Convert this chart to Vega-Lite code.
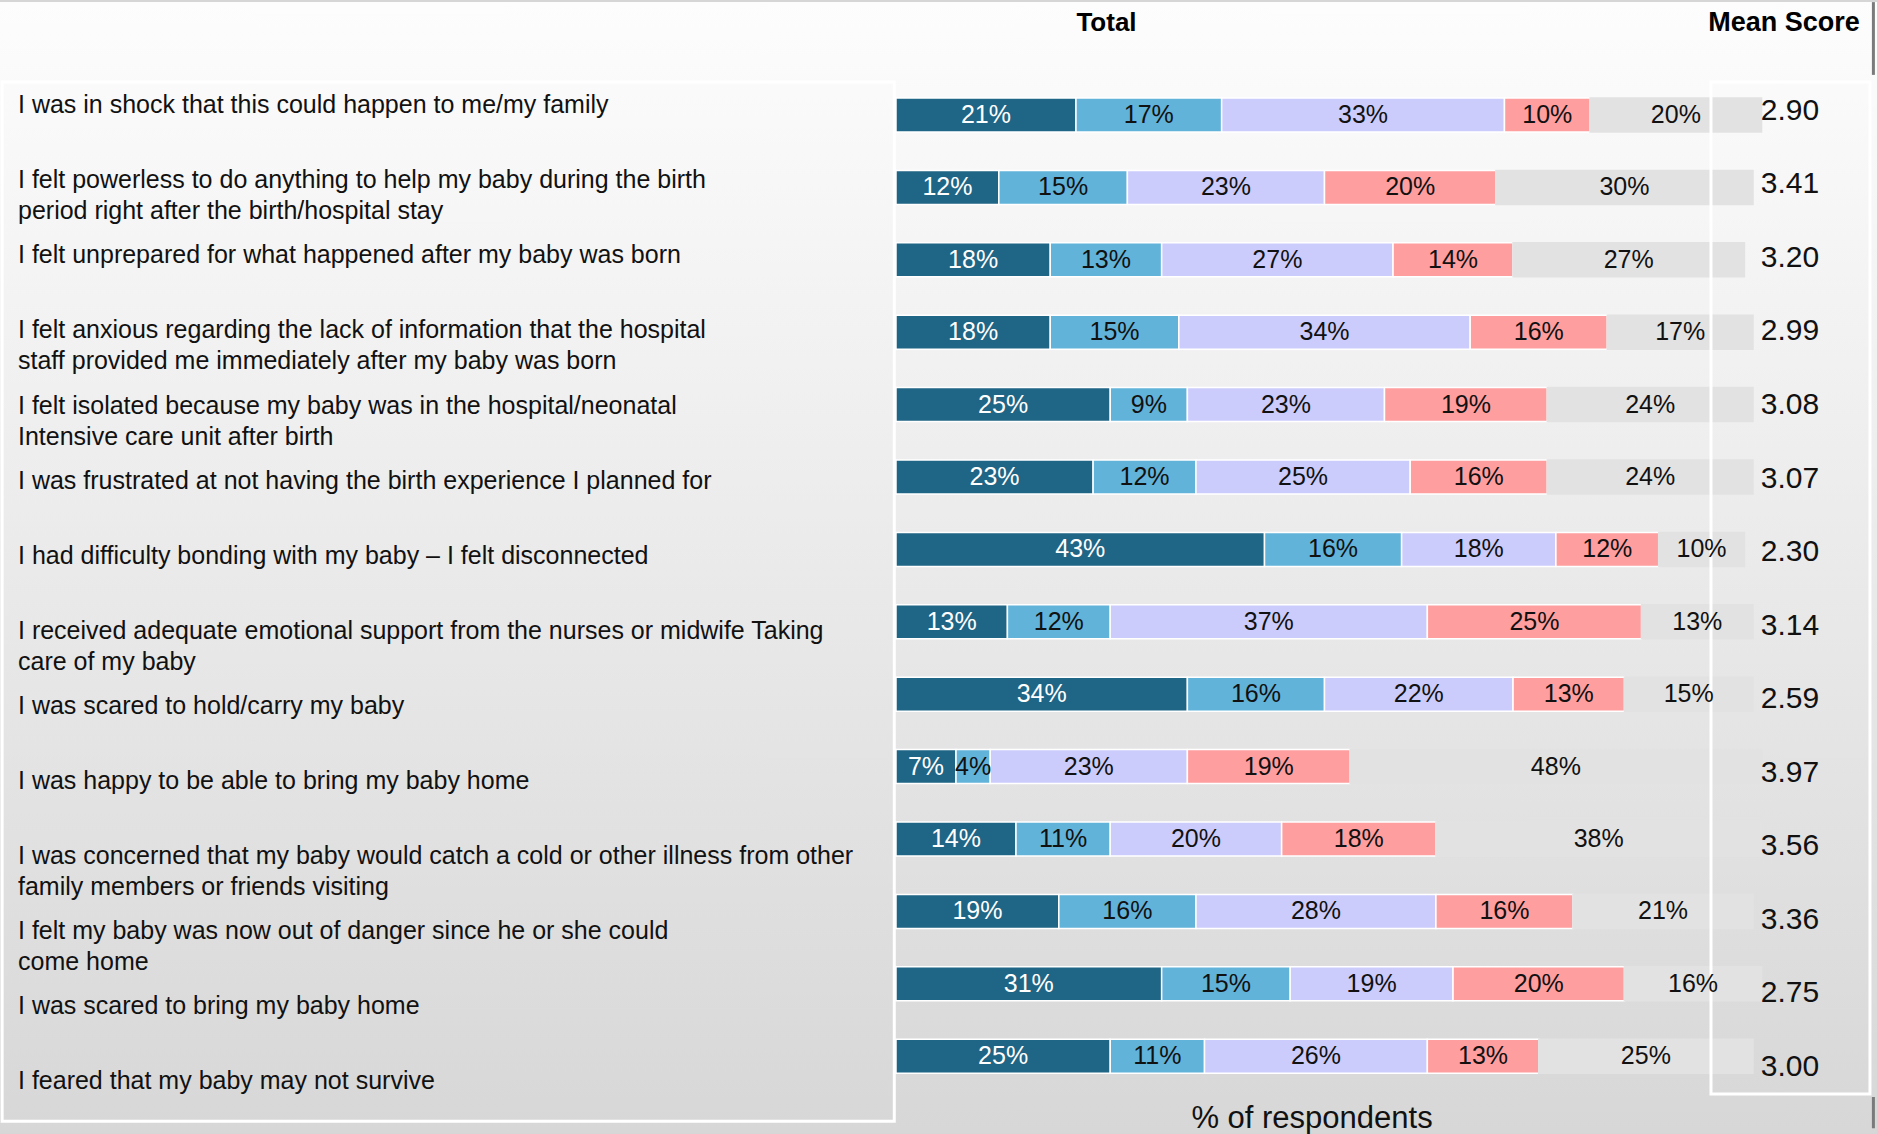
{
  "$schema": "https://vega.github.io/schema/vega-lite/v6.json",
  "width": 1877,
  "height": 1134,
  "autosize": {"type": "fit", "contains": "padding"},
  "padding": 0,
  "background": "#d6d6d6",
  "title": {"text": "% of respondents", "orient": "bottom", "anchor": "middle", "frame": "group", "dx": 373.5, "offset": -5, "baseline": "alphabetic", "fontSize": 31, "fontWeight": "normal", "color": "#111111", "font": "Liberation Sans"},
  "config": {"view": {"stroke": null}, "font": "Liberation Sans", "text": {"font": "Liberation Sans"}},
  "datasets": {
    "shares": [
      {"id": "q1", "k": 1, "share": 0.21}, {"id": "q1", "k": 2, "share": 0.17}, {"id": "q1", "k": 3, "share": 0.33}, {"id": "q1", "k": 4, "share": 0.10}, {"id": "q1", "k": 5, "share": 0.20},
      {"id": "q2", "k": 1, "share": 0.12}, {"id": "q2", "k": 2, "share": 0.15}, {"id": "q2", "k": 3, "share": 0.23}, {"id": "q2", "k": 4, "share": 0.20}, {"id": "q2", "k": 5, "share": 0.30},
      {"id": "q3", "k": 1, "share": 0.18}, {"id": "q3", "k": 2, "share": 0.13}, {"id": "q3", "k": 3, "share": 0.27}, {"id": "q3", "k": 4, "share": 0.14}, {"id": "q3", "k": 5, "share": 0.27},
      {"id": "q4", "k": 1, "share": 0.18}, {"id": "q4", "k": 2, "share": 0.15}, {"id": "q4", "k": 3, "share": 0.34}, {"id": "q4", "k": 4, "share": 0.16}, {"id": "q4", "k": 5, "share": 0.17},
      {"id": "q5", "k": 1, "share": 0.25}, {"id": "q5", "k": 2, "share": 0.09}, {"id": "q5", "k": 3, "share": 0.23}, {"id": "q5", "k": 4, "share": 0.19}, {"id": "q5", "k": 5, "share": 0.24},
      {"id": "q6", "k": 1, "share": 0.23}, {"id": "q6", "k": 2, "share": 0.12}, {"id": "q6", "k": 3, "share": 0.25}, {"id": "q6", "k": 4, "share": 0.16}, {"id": "q6", "k": 5, "share": 0.24},
      {"id": "q7", "k": 1, "share": 0.43}, {"id": "q7", "k": 2, "share": 0.16}, {"id": "q7", "k": 3, "share": 0.18}, {"id": "q7", "k": 4, "share": 0.12}, {"id": "q7", "k": 5, "share": 0.10},
      {"id": "q8", "k": 1, "share": 0.13}, {"id": "q8", "k": 2, "share": 0.12}, {"id": "q8", "k": 3, "share": 0.37}, {"id": "q8", "k": 4, "share": 0.25}, {"id": "q8", "k": 5, "share": 0.13},
      {"id": "q9", "k": 1, "share": 0.34}, {"id": "q9", "k": 2, "share": 0.16}, {"id": "q9", "k": 3, "share": 0.22}, {"id": "q9", "k": 4, "share": 0.13}, {"id": "q9", "k": 5, "share": 0.15},
      {"id": "q10", "k": 1, "share": 0.07}, {"id": "q10", "k": 2, "share": 0.04}, {"id": "q10", "k": 3, "share": 0.23}, {"id": "q10", "k": 4, "share": 0.19}, {"id": "q10", "k": 5, "share": 0.48},
      {"id": "q11", "k": 1, "share": 0.14}, {"id": "q11", "k": 2, "share": 0.11}, {"id": "q11", "k": 3, "share": 0.20}, {"id": "q11", "k": 4, "share": 0.18}, {"id": "q11", "k": 5, "share": 0.38},
      {"id": "q12", "k": 1, "share": 0.19}, {"id": "q12", "k": 2, "share": 0.16}, {"id": "q12", "k": 3, "share": 0.28}, {"id": "q12", "k": 4, "share": 0.16}, {"id": "q12", "k": 5, "share": 0.21},
      {"id": "q13", "k": 1, "share": 0.31}, {"id": "q13", "k": 2, "share": 0.15}, {"id": "q13", "k": 3, "share": 0.19}, {"id": "q13", "k": 4, "share": 0.20}, {"id": "q13", "k": 5, "share": 0.16},
      {"id": "q14", "k": 1, "share": 0.25}, {"id": "q14", "k": 2, "share": 0.11}, {"id": "q14", "k": 3, "share": 0.26}, {"id": "q14", "k": 4, "share": 0.13}, {"id": "q14", "k": 5, "share": 0.25}
    ],
    "items": [
      {"id": "q1", "label": "I was in shock that this could happen to me/my family", "mean": 2.90},
      {"id": "q2", "label": "I felt powerless to do anything to help my baby during the birth\nperiod right after the birth/hospital stay", "mean": 3.41},
      {"id": "q3", "label": "I felt unprepared for what happened after my baby was born", "mean": 3.20},
      {"id": "q4", "label": "I felt anxious regarding the lack of information that the hospital\nstaff provided me immediately after my baby was born", "mean": 2.99},
      {"id": "q5", "label": "I felt isolated because my baby was in the hospital/neonatal\nIntensive care unit after birth", "mean": 3.08},
      {"id": "q6", "label": "I was frustrated at not having the birth experience I planned for", "mean": 3.07},
      {"id": "q7", "label": "I had difficulty bonding with my baby – I felt disconnected", "mean": 2.30},
      {"id": "q8", "label": "I received adequate emotional support from the nurses or midwife Taking\ncare of my baby", "mean": 3.14},
      {"id": "q9", "label": "I was scared to hold/carry my baby", "mean": 2.59},
      {"id": "q10", "label": "I was happy to be able to bring my baby home", "mean": 3.97},
      {"id": "q11", "label": "I was concerned that my baby would catch a cold or other illness from other\nfamily members or friends visiting", "mean": 3.56},
      {"id": "q12", "label": "I felt my baby was now out of danger since he or she could\ncome home", "mean": 3.36},
      {"id": "q13", "label": "I was scared to bring my baby home", "mean": 2.75},
      {"id": "q14", "label": "I feared that my baby may not survive", "mean": 3.00}
    ]
  },
  "resolve": {"scale": {"y": "independent"}, "axis": {"y": "independent"}},
  "layer": [
    {
      "layer": [
        {
          "data": {"values": [{}]},
          "mark": {"type": "rect", "color": {"gradient": "linear", "x1": 0, "y1": 0, "x2": 0, "y2": 1, "stops": [{"offset": 0, "color": "#fdfdfd"}, {"offset": 1, "color": "#d7d7d7"}]}},
          "encoding": {}
        },
        {
          "data": {"name": "shares"},
          "mark": {"type": "bar", "strokeWidth": 1.5},
          "encoding": {
            "x": {"field": "share", "type": "quantitative", "stack": "zero", "scale": {"domain": [-1.0455, 1.1447], "nice": false, "zero": false}, "axis": null},
            "y": {"field": "id", "type": "nominal", "sort": null,
              "scale": {"type": "band", "domain": ["q1","q2","q3","q4","q5","q6","q7","q8","q9","q10","q11","q12","q13","q14"], "range": [96, 1071.2], "paddingInner": 0.5304, "paddingOuter": 0},
              "axis": null},
            "color": {"field": "k", "type": "nominal", "scale": {"domain": [1, 2, 3, 4, 5], "range": ["#1f6585", "#62b3da", "#ccccfc", "#ff9e9f", "#e2e2e2"]}, "legend": null},
            "stroke": {"condition": {"test": "datum.k == 5", "value": "#e2e2e2"}, "value": "#ffffff"},
            "order": {"field": "k", "type": "quantitative"}
          }
        },
        {
          "data": {"values": [{}]},
          "mark": {"type": "rect", "fill": "transparent", "stroke": "#ffffff", "strokeWidth": 3},
          "encoding": {
            "x": {"datum": -1.043, "type": "quantitative", "axis": null},
            "x2": {"datum": -0.002},
            "y": {"datum": "q1", "type": "nominal", "bandPosition": -0.47, "axis": null},
            "y2": {"datum": "q14", "bandPosition": 2.41}
          }
        },
        {
          "data": {"values": [{}]},
          "mark": {"type": "rule", "stroke": "#7a7a7a", "strokeWidth": 3},
          "encoding": {
            "x": {"datum": 1.1405, "type": "quantitative", "axis": null},
            "y": {"datum": "q1", "type": "nominal", "bandPosition": -2.82, "axis": null},
            "y2": {"datum": "q1", "bandPosition": -0.68}
          }
        },
        {
          "data": {"values": [{}]},
          "mark": {"type": "rule", "stroke": "#7a7a7a", "strokeWidth": 3},
          "encoding": {
            "x": {"datum": 1.1405, "type": "quantitative", "axis": null},
            "y": {"datum": "q14", "type": "nominal", "bandPosition": 1.7, "axis": null},
            "y2": {"datum": "q14", "bandPosition": 2.62}
          }
        },
        {
          "data": {"values": [{}]},
          "mark": {"type": "rect", "fill": "transparent", "stroke": "#ffffff", "strokeWidth": 3},
          "encoding": {
            "x": {"datum": 0.951, "type": "quantitative", "axis": null},
            "x2": {"datum": 1.1365},
            "y": {"datum": "q1", "type": "nominal", "bandPosition": -0.47, "axis": null},
            "y2": {"datum": "q14", "bandPosition": 1.61}
          }
        },
        {
          "data": {"name": "shares"},
          "mark": {"type": "text", "fontSize": 25, "baseline": "middle", "align": "center"},
          "encoding": {
            "x": {"field": "share", "type": "quantitative", "stack": "zero", "bandPosition": 0.5, "axis": null},
            "y": {"field": "id", "type": "nominal", "sort": null, "axis": null},
            "detail": {"field": "k", "type": "nominal"},
            "order": {"field": "k", "type": "quantitative"},
            "text": {"field": "share", "type": "quantitative", "format": ".0%"},
            "color": {"condition": {"test": "datum.k == 1", "value": "#ffffff"}, "value": "#111111"}
          }
        }
      ]
    },
    {
      "data": {"name": "items"},
      "mark": {"type": "text", "align": "left", "baseline": "middle", "fontSize": 25, "lineBreak": "\n", "lineHeight": 31, "color": "#111111"},
      "encoding": {
        "x": {"datum": -1.0245, "type": "quantitative", "axis": null},
        "y": {"field": "id", "type": "nominal", "sort": null,
          "scale": {"type": "point", "domain": ["q1","q2","q3","q4","q5","q6","q7","q8","q9","q10","q11","q12","q13","q14"], "range": [103.3, 1079.1], "padding": 0},
          "axis": {"orient": "left", "title": "Total", "labels": false, "ticks": false, "domain": false, "grid": false, "zindex": 2, "titleAngle": 0, "titleX": 1106, "titleY": 28, "titleAlign": "center", "titleBaseline": "alphabetic", "titleFontSize": 26, "titleFontWeight": "bold", "titleColor": "#000000", "titleFont": "Liberation Sans"}},
        "text": {"field": "label", "type": "nominal"}
      }
    },
    {
      "data": {"name": "items"},
      "mark": {"type": "text", "align": "left", "baseline": "middle", "fontSize": 30, "color": "#111111"},
      "encoding": {
        "x": {"datum": 1.009, "type": "quantitative", "axis": null},
        "y": {"field": "id", "type": "nominal", "sort": null,
          "scale": {"type": "point", "domain": ["q1","q2","q3","q4","q5","q6","q7","q8","q9","q10","q11","q12","q13","q14"], "range": [108.7, 1065], "padding": 0},
          "axis": {"orient": "right", "title": "Mean Score", "labels": false, "ticks": false, "domain": false, "grid": false, "zindex": 2, "titleAngle": 0, "titleX": -93.5, "titleY": 28, "titleAlign": "center", "titleBaseline": "alphabetic", "titleFontSize": 27, "titleFontWeight": "bold", "titleColor": "#000000", "titleFont": "Liberation Sans"}},
        "text": {"field": "mean", "type": "quantitative", "format": ".2f"}
      }
    }
  ]
}
